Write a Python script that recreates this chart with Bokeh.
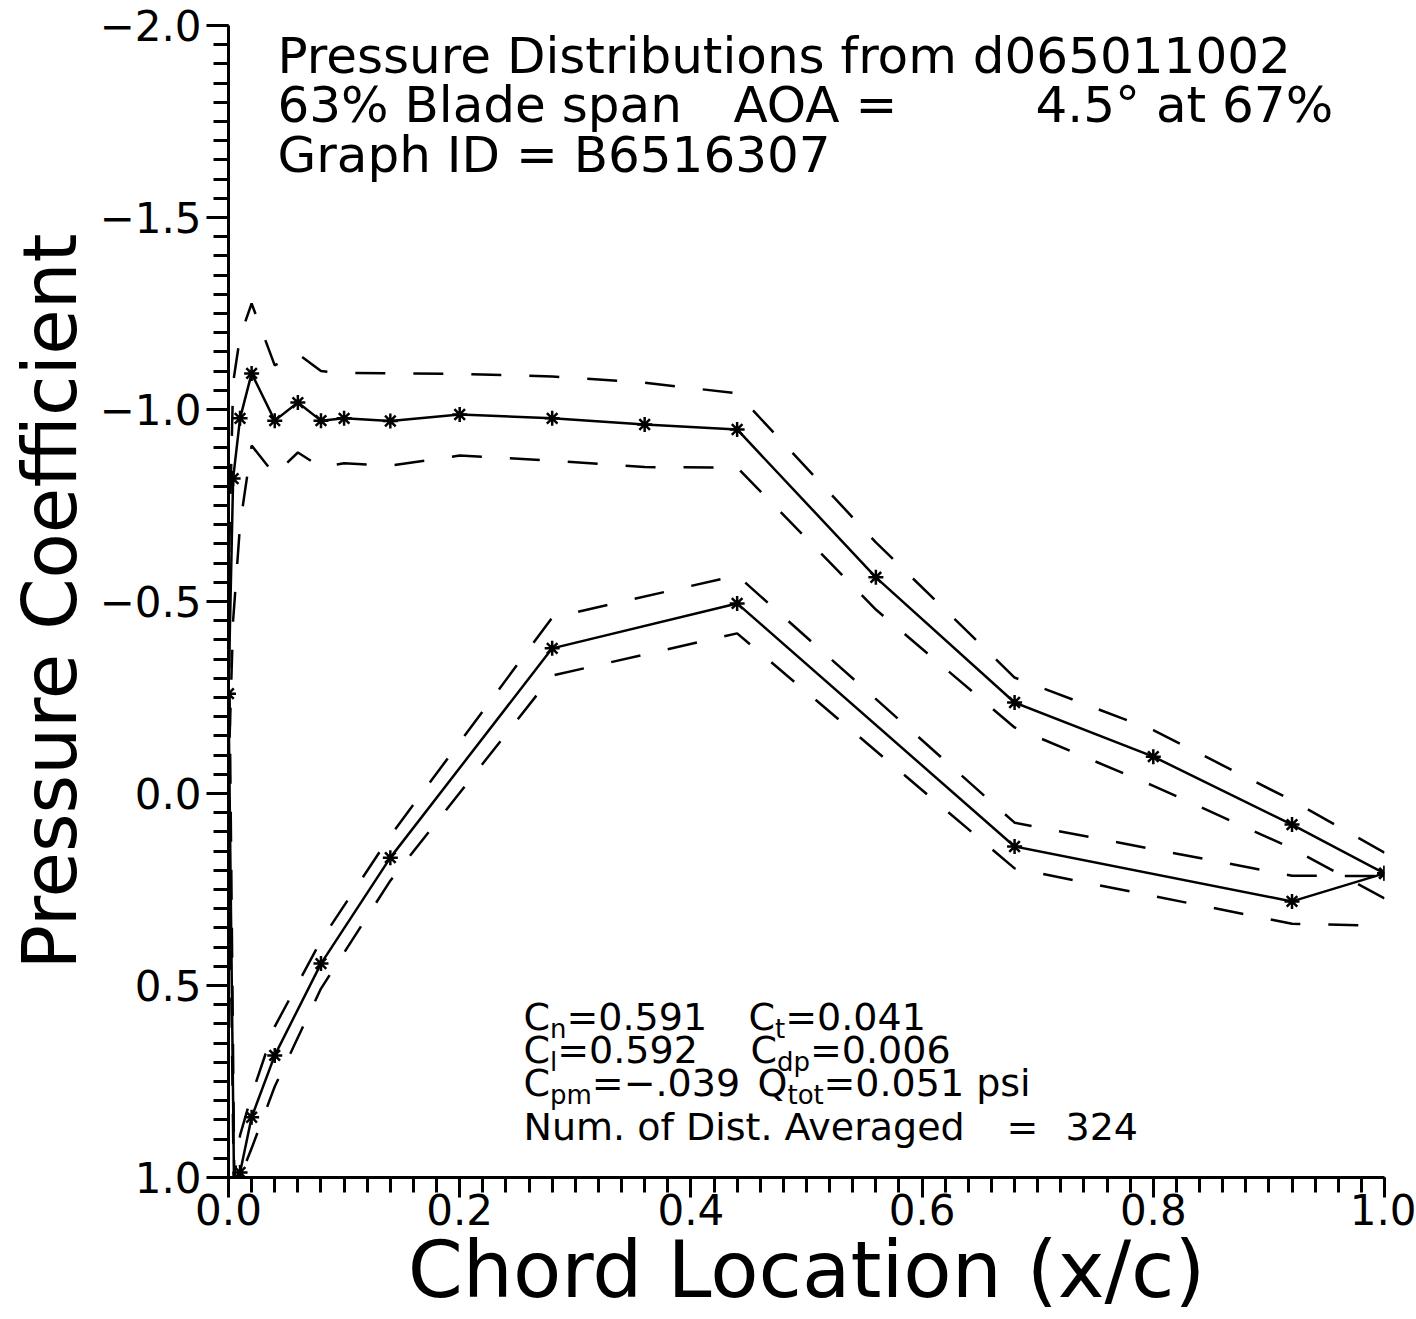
from bokeh.plotting import figure
from bokeh.models import Range1d, FixedTicker, CustomJSTickFormatter, Label
from bokeh.embed import file_html
from bokeh.resources import INLINE

# ---------------- data ----------------
# upper surface, trailing edge -> leading edge
upper_x = [1.0, 0.92, 0.80, 0.68, 0.56, 0.44, 0.36, 0.28, 0.20, 0.14,
           0.10, 0.08, 0.06, 0.04, 0.02, 0.01, 0.004, 0.0]
upper_cp = [0.208, 0.081, -0.096, -0.237, -0.563, -0.948, -0.961, -0.977, -0.987, -0.970,
            -0.977, -0.971, -1.018, -0.971, -1.094, -0.977, -0.820, -0.260]
upper_cp_min = [0.154, 0.018, -0.165, -0.302, -0.654, -1.042, -1.070, -1.086, -1.093, -1.094,
                -1.095, -1.100, -1.145, -1.115, -1.276, -1.190, -1.070, -0.550]
upper_cp_max = [0.273, 0.143, -0.020, -0.172, -0.479, -0.849, -0.850, -0.867, -0.880, -0.854,
                -0.860, -0.850, -0.888, -0.830, -0.906, -0.700, -0.450, -0.050]
# lower surface, leading edge -> trailing edge
lower_x = [0.005, 0.01, 0.02, 0.04, 0.08, 0.14, 0.28, 0.44, 0.68, 0.92, 1.0]
lower_cp = [1.070, 0.987, 0.843, 0.682, 0.443, 0.167, -0.378, -0.495, 0.138, 0.281, 0.208]
lower_cp_min = [1.000, 0.890, 0.786, 0.607, 0.383, 0.110, -0.458, -0.568, 0.076, 0.214, 0.215]
lower_cp_max = [1.120, 1.000, 0.924, 0.763, 0.508, 0.227, -0.307, -0.417, 0.195, 0.339, 0.345]

x_ticks = [0.0, 0.2, 0.4, 0.6, 0.8, 1.0]
y_ticks = [-2.0, -1.5, -1.0, -0.5, 0.0, 0.5, 1.0]

title_lines = ["Pressure Distributions from d065011002",
               "63% Blade span", "AOA =", "4.5\u00b0 at 67%",
               "Graph ID = B6516307"]
x_title = "Chord Location (x/c)"
y_title = "Pressure Coefficient"

FONT = "DejaVu Sans"

# ---------------- figure ----------------
W, H = 1416, 1319
FX0, FX1, FY0, FY1 = 228.0, 1384.0, 25.0, 1177.0   # frame edges in page pixels
p = figure(width=W, height=H, output_backend="svg", toolbar_location=None,
           x_range=Range1d(0.0, 1.0), y_range=Range1d(1.0, -2.0),
           min_border_left=int(FX0), min_border_right=int(W - FX1),
           min_border_top=int(FY0), min_border_bottom=int(H - FY1))
p.outline_line_color = None
p.xgrid.visible = False
p.ygrid.visible = False
p.background_fill_color = "white"
p.border_fill_color = "white"

def dx(px):
    return (px - FX0) / (FX1 - FX0)
def dy(py):
    return -2.0 + 3.0 * (py - FY0) / (FY1 - FY0)

# ---------------- series ----------------
solid_x = upper_x + lower_x
solid_y = upper_cp + lower_cp
min_y = upper_cp_min + lower_cp_min
max_y = upper_cp_max + lower_cp_max

p.line(solid_x, min_y, line_color="black", line_width=2.5, line_dash="30 28")
p.line(solid_x, max_y, line_color="black", line_width=2.5, line_dash="30 28")
p.line(solid_x, solid_y, line_color="black", line_width=2.5)
p.scatter(solid_x, solid_y, marker="asterisk", size=15, line_color="black", line_width=2.5)

# ---------------- axes ----------------
fmt = CustomJSTickFormatter(code="""
    return (tick < -1e-9 ? "\\u2212" : "") + Math.abs(tick).toFixed(1);
""")
for ax in (p.xaxis[0], p.yaxis[0]):
    ax.formatter = fmt
    ax.axis_line_width = 3
    ax.major_tick_line_width = 3
    ax.minor_tick_line_width = 3
    ax.major_tick_in = 0
    ax.minor_tick_in = 0
    ax.minor_tick_out = 15
    ax.major_label_text_font = FONT
    ax.major_label_text_font_size = "42px"
    ax.major_label_text_color = "black"
    ax.axis_label_text_font = FONT
    ax.axis_label_text_font_style = "normal"
    ax.axis_label_text_color = "black"

p.xaxis[0].ticker = FixedTicker(ticks=x_ticks,
                                minor_ticks=[round(i * 0.02, 2) for i in range(51)])
p.yaxis[0].ticker = FixedTicker(ticks=y_ticks,
                                minor_ticks=[round(-2.0 + i * 0.05, 2) for i in range(61)])
p.xaxis[0].major_tick_out = 20
p.yaxis[0].major_tick_out = 22
p.xaxis[0].major_label_standoff = -4
p.yaxis[0].major_label_standoff = 5

p.xaxis[0].axis_label = x_title
p.xaxis[0].axis_label_text_font_size = "79px"
p.xaxis[0].axis_label_standoff = -4
p.yaxis[0].axis_label = y_title
p.yaxis[0].axis_label_text_font_size = "74px"
p.yaxis[0].axis_label_standoff = 4

# ---------------- annotations ----------------
def add_text(px, py, txt, size_px):
    # py is the wanted baseline on the page; shift compensates the renderer's baseline offset
    shift = 0.36 * size_px
    p.add_layout(Label(x=dx(px), y=dy(py - shift), text=txt, text_font=FONT,
                       text_font_size=f"{size_px}px", text_color="black",
                       text_baseline="alphabetic", text_align="left"))

add_text(277, 73, title_lines[0], 50)
add_text(277, 122, title_lines[1], 50)
add_text(733, 122, title_lines[2], 50)
add_text(1035, 122, title_lines[3], 50)
add_text(277, 172, title_lines[4], 50)

MAIN, SUB, SUBDROP = 38, 26, 8
def add_sub(px, py, base, sub, rest, sub_w):
    add_text(px, py, base, MAIN)
    wbase = {"C": 26.5, "Q": 30.0}[base]
    add_text(px + wbase, py + SUBDROP, sub, SUB)
    add_text(px + wbase + sub_w, py, rest, MAIN)

add_sub(523, 1030, "C", "n", "=0.591", 16.5)
add_sub(748, 1030, "C", "t", "=0.041", 10.2)
add_sub(523, 1063, "C", "l", "=0.592", 7.2)
add_sub(750, 1063, "C", "dp", "=0.006", 33.0)
add_sub(523, 1096, "C", "pm", "=\u2212.039", 41.8)
add_sub(757, 1096, "Q", "tot", "=0.051 psi", 36.0)
add_text(523, 1140, "Num. of Dist. Averaged", MAIN)
add_text(1006, 1140, "=", MAIN)
add_text(1065, 1140, "324", MAIN)

open("out.html", "w").write(file_html(p, INLINE))
